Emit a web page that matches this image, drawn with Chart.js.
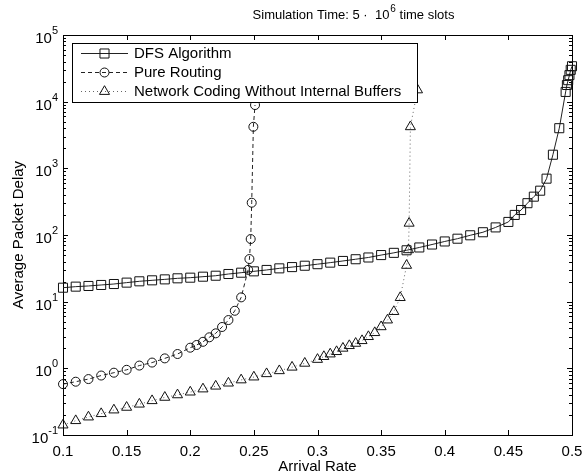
<!DOCTYPE html>
<html>
<head>
<meta charset="utf-8">
<script src="https://cdn.jsdelivr.net/npm/chart.js@4.4.1/dist/chart.umd.min.js"></script>
<style>
html, body { margin: 0; padding: 0; background: #fff; }
</style>
</head>
<body>
<canvas id="delayChart" width="582" height="474"></canvas>
<script>
// values (arrival rate vs. average packet delay)
const dfsRate = [0.10, 0.11, 0.12, 0.13, 0.14, 0.15, 0.16, 0.17, 0.18, 0.19,
                 0.20, 0.21, 0.22, 0.23, 0.24, 0.25, 0.26, 0.27, 0.28, 0.29,
                 0.30, 0.31, 0.32, 0.33, 0.34, 0.35, 0.36, 0.37, 0.38, 0.39,
                 0.40, 0.41, 0.42, 0.43, 0.44, 0.45, 0.455, 0.46, 0.465, 0.47,
                 0.475, 0.48, 0.485, 0.49, 0.495, 0.496, 0.497, 0.498, 0.499, 0.50];
const dfsDelay = [16.2, 16.8, 17.2, 17.8, 18.4, 19.3, 20.2, 20.9, 21.6, 22.4,
                  22.9, 23.7, 24.5, 26.0, 27.2, 28.5, 29.9, 31.6, 33.0, 34.6,
                  36.5, 38.5, 40.8, 43.3, 46.0, 50, 54, 59, 65, 72,
                  80, 88, 99, 110, 130, 157, 200, 237, 300, 376,
                  462, 700, 1600, 4000, 14000, 17800, 21000, 25000, 30000, 34000];

const routingRate = [0.10, 0.11, 0.12, 0.13, 0.14, 0.15, 0.16, 0.17, 0.18, 0.19,
                     0.20, 0.205, 0.21, 0.215, 0.22, 0.225, 0.23, 0.235, 0.24,
                     0.2455, 0.2465, 0.2475, 0.2483, 0.2496, 0.2509];
const routingDelay = [0.58, 0.63, 0.69, 0.78, 0.86, 0.95, 1.1, 1.22, 1.41, 1.64,
                      2.04, 2.24, 2.5, 2.92, 3.35, 4.17, 5.3, 7.3, 11.6,
                      30, 43.6, 87, 305, 4200, 8900];

const codingRate = [0.10, 0.11, 0.12, 0.13, 0.14, 0.15, 0.16, 0.17, 0.18, 0.19,
                    0.20, 0.21, 0.22, 0.23, 0.24, 0.25, 0.26, 0.27, 0.28, 0.29,
                    0.30, 0.305, 0.31, 0.315, 0.32, 0.325, 0.33, 0.335, 0.34, 0.345,
                    0.35, 0.355, 0.36, 0.365, 0.370, 0.3715, 0.372, 0.373, 0.3786];
const codingDelay = [0.141, 0.164, 0.186, 0.209, 0.237, 0.26, 0.29, 0.327, 0.367, 0.40,
                     0.44, 0.49, 0.54, 0.60, 0.67, 0.74, 0.83, 0.92, 1.04, 1.19,
                     1.36, 1.5, 1.64, 1.78, 2.0, 2.19, 2.37, 2.6, 2.99, 3.43,
                     4.2, 5.3, 7.1, 11.5, 35, 60, 150, 4200, 15000];

const seriesNames = ["DFS Algorithm", "Pure Routing", "Network Coding Without Internal Buffers"];
const xTicks = [0.1, 0.15, 0.2, 0.25, 0.3, 0.35, 0.4, 0.45, 0.5];
const yExponents = [-1, 0, 1, 2, 3, 4, 5];

const FONT = '"Liberation Sans", Arial, Helvetica, sans-serif';

function points(xs, ys) {
    return xs.map((x, i) => ({ x: x, y: ys[i] }));
}

// axes box, inward ticks, power-of-ten labels, title and boxed legend
const matlabLook = {
    id: "matlabLook",
    beforeDatasetsDraw(chart) {
        const { ctx, chartArea: a, scales } = chart;
        ctx.save();
        ctx.strokeStyle = "#000";
        ctx.lineWidth = 1;
        ctx.beginPath();
        xTicks.forEach(v => {
            const px = Math.round(scales.x.getPixelForValue(v)) + 0.5;
            ctx.moveTo(px, a.bottom); ctx.lineTo(px, a.bottom - 5);
            ctx.moveTo(px, a.top); ctx.lineTo(px, a.top + 5);
        });
        yExponents.forEach(e => {
            for (let m = 1; m < 10; m++) {
                const v = m * Math.pow(10, e);
                if (v > 1e5) break;
                const py = Math.round(scales.y.getPixelForValue(v)) + 0.5;
                const len = m === 1 ? 5 : 3;
                ctx.moveTo(a.left, py); ctx.lineTo(a.left + len, py);
                ctx.moveTo(a.right, py); ctx.lineTo(a.right - len, py);
            }
        });
        ctx.stroke();
        ctx.strokeRect(Math.round(a.left) + 0.5, Math.round(a.top) + 0.5,
                       Math.round(a.right - a.left), Math.round(a.bottom - a.top));

        // y labels 10^k
        ctx.fillStyle = "#000";
        ctx.textBaseline = "middle";
        yExponents.forEach(e => {
            const py = scales.y.getPixelForValue(Math.pow(10, e));
            const sup = String(e);
            ctx.font = "11px " + FONT;
            const sw = ctx.measureText(sup).width;
            ctx.font = "15px " + FONT;
            const bw = ctx.measureText("10").width;
            const right = a.left - 5;
            ctx.textAlign = "left";
            ctx.fillText("10", right - sw - bw, py + 4);
            ctx.font = "11px " + FONT;
            ctx.fillText(sup, right - sw, py - 4);
        });
        ctx.restore();
    },
    afterDatasetsDraw(chart) {
        const { ctx, chartArea: a } = chart;
        ctx.save();
        // legend
        const lx = a.left + 9, ly = a.top + 8, lw = 345, lh = 59;
        ctx.fillStyle = "#fff";
        ctx.fillRect(lx, ly, lw, lh);
        ctx.strokeStyle = "#000";
        ctx.lineWidth = 1;
        ctx.strokeRect(lx + 0.5, ly + 0.5, lw, lh);
        chart.data.datasets.forEach((ds, i) => {
            const y = ly + 10.5 + i * 19;
            ctx.save();
            ctx.strokeStyle = ds.borderColor;
            ctx.lineWidth = ds.borderWidth;
            ctx.setLineDash(ds.borderDash || []);
            ctx.beginPath();
            ctx.moveTo(lx + 9, y); ctx.lineTo(lx + 56, y);
            ctx.stroke();
            ctx.restore();
            ctx.save();
            ctx.strokeStyle = ds.pointBorderColor;
            ctx.fillStyle = "rgba(0,0,0,0)";
            ctx.lineWidth = ds.pointBorderWidth;
            Chart.helpers.drawPoint(ctx, {
                pointStyle: ds.pointStyle, radius: ds.pointRadius,
                rotation: 0, borderWidth: ds.pointBorderWidth
            }, lx + 32.5, y);
            ctx.restore();
            ctx.fillStyle = "#000";
            ctx.font = "15px " + FONT;
            ctx.textAlign = "left";
            ctx.textBaseline = "middle";
            ctx.fillText(seriesNames[i], lx + 62, y + 0.5);
        });

        // title with superscript
        const t1 = "Simulation Time: 5 \u00B7  10", t2 = "6", t3 = " time slots";
        ctx.font = "13px " + FONT;
        const w1 = ctx.measureText(t1).width, w3 = ctx.measureText(t3).width;
        ctx.font = "10px " + FONT;
        const w2 = ctx.measureText(t2).width;
        let tx = 353 - (w1 + w2 + w3) / 2;
        ctx.fillStyle = "#000";
        ctx.textAlign = "left";
        ctx.textBaseline = "middle";
        ctx.font = "13px " + FONT;
        ctx.fillText(t1, tx, 15);
        ctx.font = "10px " + FONT;
        ctx.fillText(t2, tx + w1 + 1, 9);
        ctx.font = "13px " + FONT;
        ctx.fillText(t3, tx + w1 + w2 + 1, 15);
        ctx.restore();
    }
};

const ctx = document.getElementById("delayChart").getContext("2d");

new Chart(ctx, {
    type: "line",
    data: {
        datasets: [
            {
                label: seriesNames[0],
                data: points(dfsRate, dfsDelay),
                borderColor: "#222",
                borderWidth: 1,
                pointStyle: "rect",
                pointRadius: 6.4,
                pointBorderColor: "#111",
                pointBackgroundColor: "rgba(0,0,0,0)",
                pointBorderWidth: 1,
                clip: false
            },
            {
                label: seriesNames[1],
                data: points(routingRate, routingDelay),
                borderColor: "#222",
                borderWidth: 1,
                borderDash: [4, 3],
                pointStyle: "circle",
                pointRadius: 4.5,
                pointBorderColor: "#111",
                pointBackgroundColor: "rgba(0,0,0,0)",
                pointBorderWidth: 1,
                clip: false
            },
            {
                label: seriesNames[2],
                data: points(codingRate, codingDelay),
                borderColor: "#666",
                borderWidth: 1,
                borderDash: [1, 3],
                pointStyle: "triangle",
                pointRadius: 5.8,
                pointBorderColor: "#111",
                pointBackgroundColor: "rgba(0,0,0,0)",
                pointBorderWidth: 1,
                clip: false
            }
        ]
    },
    options: {
        responsive: false,
        animation: false,
        layout: { padding: { top: 35, right: 10, bottom: 0, left: 0 } },
        plugins: {
            legend: { display: false },
            tooltip: { enabled: false },
            title: { display: false }
        },
        scales: {
            x: {
                type: "linear",
                min: 0.1,
                max: 0.5,
                afterBuildTicks: s => { s.ticks = xTicks.map(v => ({ value: v })); },
                afterFit: s => { s.height = 39; s.paddingLeft = 0; s.paddingRight = 0; },
                grid: { display: false, drawTicks: false },
                border: { display: false },
                ticks: {
                    autoSkip: false,
                    maxRotation: 0,
                    padding: 8,
                    color: "#000",
                    font: { family: FONT, size: 15 },
                    callback: v => String(v)
                },
                title: {
                    display: true,
                    text: "Arrival Rate",
                    color: "#000",
                    padding: 0,
                    font: { family: FONT, size: 15, lineHeight: 1 }
                }
            },
            y: {
                type: "logarithmic",
                min: 0.1,
                max: 100000,
                afterBuildTicks: s => { s.ticks = yExponents.map(e => ({ value: Math.pow(10, e) })); },
                afterFit: s => { s.width = 63; s.paddingTop = 0; s.paddingBottom = 0; },
                grid: { display: false, drawTicks: false },
                border: { display: false },
                ticks: { display: false },
                title: {
                    display: true,
                    text: "Average Packet Delay",
                    color: "#000",
                    padding: { top: 11, bottom: 0 },
                    font: { family: FONT, size: 15, lineHeight: 1 }
                }
            }
        }
    },
    plugins: [matlabLook]
});
</script>
</body>
</html>
